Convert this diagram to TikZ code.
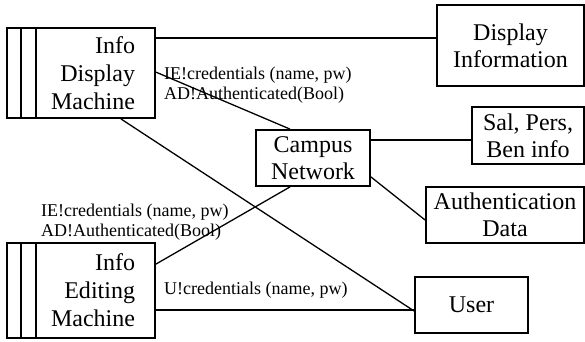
\documentclass[tikz,border=0pt]{standalone}
\usepackage{fontspec}
\setmainfont{Liberation Serif}
\begin{document}
\begin{tikzpicture}[x=1pt,y=-1pt,
  box/.style={draw,line width=1.8pt,inner sep=0pt,align=center,font=\fontsize{24}{27}\selectfont},
  mach/.style={draw,line width=1.8pt,inner ysep=0pt,inner xsep=20pt,text width=108pt,align=right,minimum width=148pt,font=\fontsize{24}{28}\selectfont},
  lbl/.style={inner sep=0pt,anchor=west,align=left,font=\fontsize{18}{20}\selectfont},
  conn/.style={line width=1.3pt}]
\useasboundingbox (0,0) rectangle (585,341);
\node[mach,minimum height=90pt] (idm) at (81,73) {Info\\Display\\Machine};
\node[mach,minimum height=95pt] (ied) at (81,290.5) {Info\\Editing\\Machine};
\foreach \n in {idm,ied}{
  \draw[line width=1.8pt] ([xshift=15pt]\n.north west) -- ([xshift=15pt]\n.south west);
  \draw[line width=1.8pt] ([xshift=30pt]\n.north west) -- ([xshift=30pt]\n.south west);
}
\node[box,minimum width=147pt,minimum height=81pt] (di) at (510.5,45.5) {Display\\Information};
\node[box,minimum width=112pt,minimum height=57pt] (sal) at (528,135.5) {Sal, Pers,\\Ben info};
\node[box,minimum width=158pt,minimum height=56pt] (auth) at (505,215) {Authentication\\Data};
\node[box,minimum width=114pt,minimum height=56pt] (cn) at (313,158) {Campus\\Network};
\node[box,minimum width=113pt,minimum height=56pt] (user) at (471.5,305) {User};
\coordinate (a1) at ([yshift=-11pt]idm.north east);
\draw[conn] (a1) -- (a1 -| di.west);
\draw[conn] ([yshift=-45pt]idm.north east) -- ([xshift=-23pt]cn.north);
\draw[conn] ([xshift=-35pt]idm.south east) -- ([yshift=-6pt]user.west);
\draw[conn] ([yshift=-22pt]ied.north east) -- ([xshift=-23pt]cn.south);
\coordinate (a5) at ([yshift=-68pt]ied.north east);
\draw[conn] (a5) -- (a5 -| user.west);
\coordinate (a6) at ([yshift=-11pt]cn.north east);
\draw[conn] (a6) -- (a6 -| sal.west);
\draw[conn] ([yshift=10pt]cn.south east) -- ([yshift=-5pt]auth.west);
\node[lbl] (l1) at (164,85) {IE!credentials (name, pw)\\AD!Authenticated(Bool)};
\node[lbl] (l2) at (41,222.5) {IE!credentials (name, pw)\\AD!Authenticated(Bool)};
\node[lbl] (l3) at (164,290) {U!credentials (name, pw)};
\end{tikzpicture}
\end{document}
